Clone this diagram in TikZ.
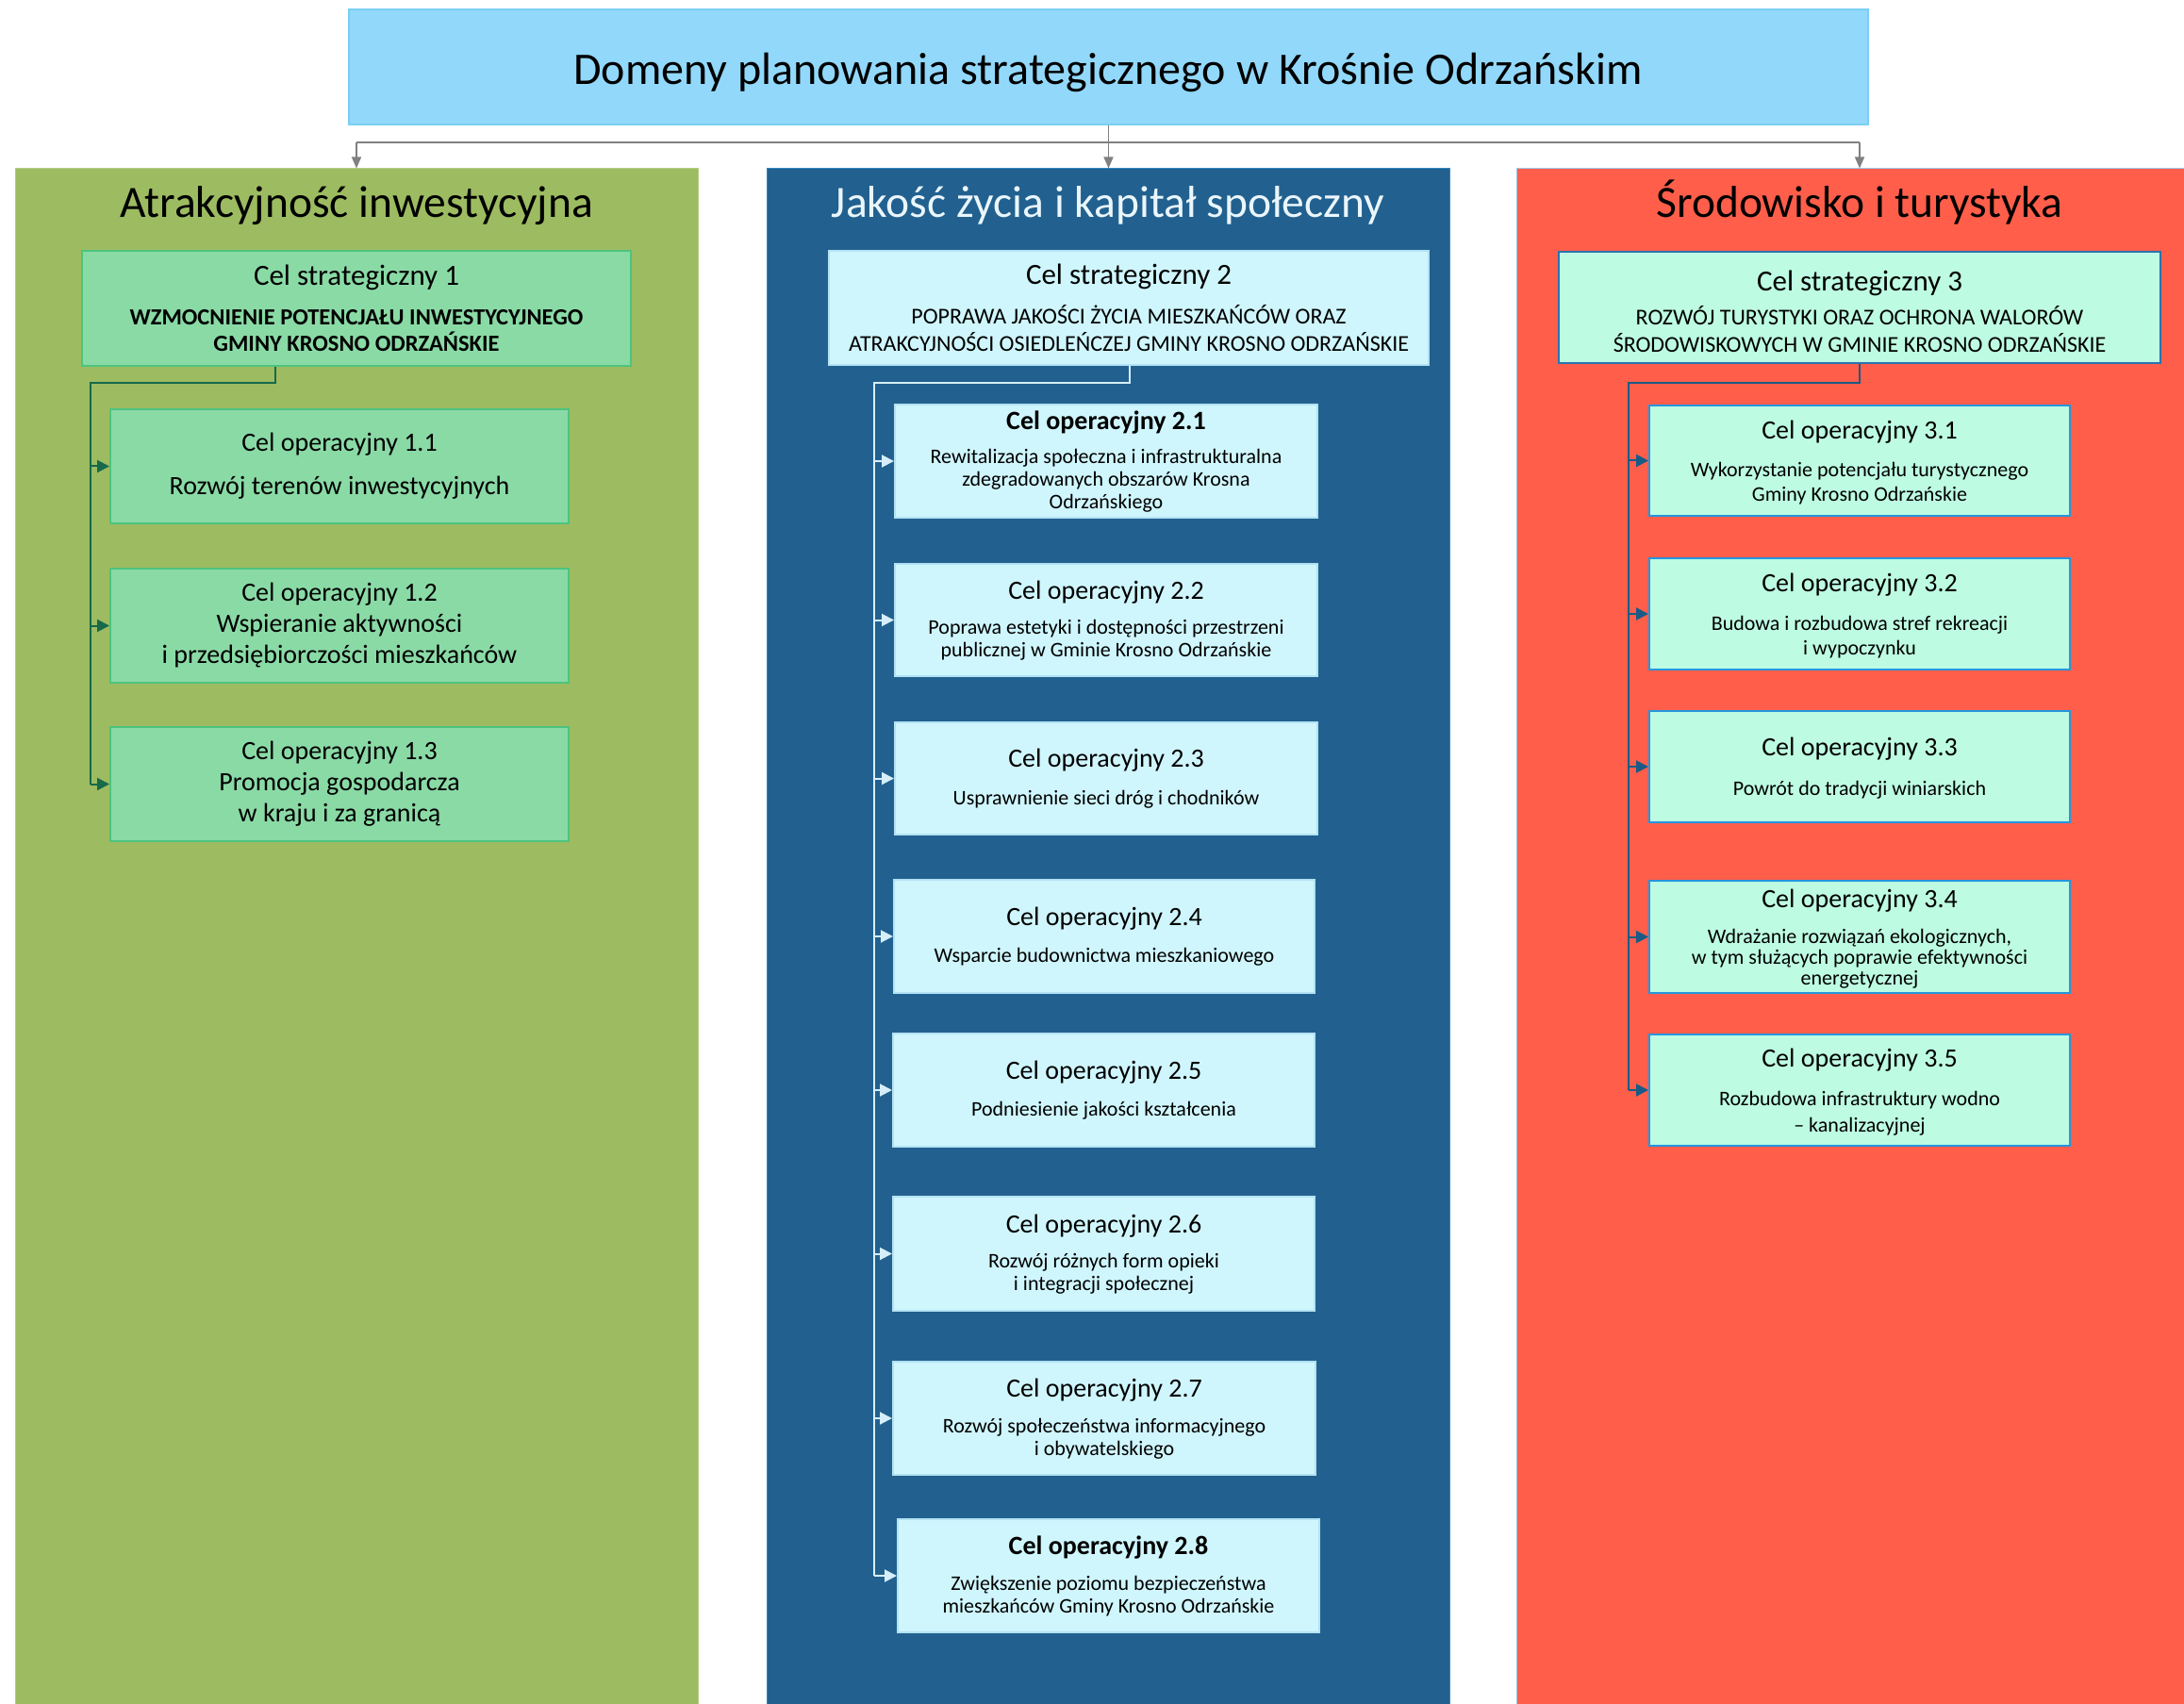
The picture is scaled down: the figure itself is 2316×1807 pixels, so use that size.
\documentclass[tikz,border=0pt]{standalone}
\usepackage{fontspec}
\setmainfont{Carlito}
\usetikzlibrary{fit,arrows.meta}
\definecolor{titlefill}{HTML}{92D8FA}
\definecolor{titleedge}{HTML}{7ACFF3}
\definecolor{greycon}{HTML}{808080}
\definecolor{colAfill}{HTML}{9DBB61}
\definecolor{colAedge}{HTML}{B2CD84}
\definecolor{colBfill}{HTML}{22618F}
\definecolor{colBedge}{HTML}{2E86C1}
\definecolor{colCfill}{HTML}{FF5E4A}
\definecolor{colCedge}{HTML}{9FC5E8}
\definecolor{boxAfill}{HTML}{8ADAA6}
\definecolor{boxAedge}{HTML}{4CC47F}
\definecolor{boxBfill}{HTML}{CFF6FD}
\definecolor{boxBedge}{HTML}{B3E2F3}
\definecolor{boxCfill}{HTML}{BDFCE3}
\definecolor{boxCedge}{HTML}{2496DE}
\definecolor{scCedge}{HTML}{2B73AE}
\definecolor{conA}{HTML}{16694A}
\definecolor{conB}{HTML}{D6EEFA}
\definecolor{conC}{HTML}{1A5A87}
\definecolor{colBtext}{HTML}{EAF6FC}
\newcommand\OpT{\fontsize{14pt}{16.5pt}\selectfont}
\newcommand\OpTB{\fontsize{14pt}{16.5pt}\selectfont\bfseries}
\newcommand\ScT{\fontsize{15.5pt}{18pt}\selectfont}
\newcommand\ScB{\fontsize{12.25pt}{14pt}\selectfont\bfseries}
\begin{document}
\begin{tikzpicture}[x=0.5pt,y=-0.5pt,
  colbox/.style={inner sep=0pt, line width=0.5pt},
  box/.style={inner sep=0pt, line width=1pt},
  txt/.style={inner sep=0pt, align=center, text=black},
  scA/.style={box, fill=boxAfill, draw=boxAedge},
  scB/.style={box, fill=boxBfill, draw=boxBedge},
  scC/.style={box, fill=boxCfill, draw=scCedge},
  opA/.style={box, fill=boxAfill, draw=boxAedge},
  opB/.style={box, fill=boxBfill, draw=boxBedge},
  opC/.style={box, fill=boxCfill, draw=boxCedge},
  tA/.style={txt, font=\fontsize{14pt}{16.5pt}\selectfont},
  tB/.style={txt, yshift=-0.25pt, font=\fontsize{11pt}{12pt}\selectfont},
  tC/.style={txt, yshift=-1pt, font=\fontsize{11pt}{13pt}\selectfont},
  tS/.style={txt, font=\fontsize{12pt}{14pt}\selectfont},
  coltitle/.style={anchor=base, inner sep=0pt, font=\fontsize{23.75pt}{28pt}\selectfont},
  gline/.style={draw=greycon, line width=0.75pt},
  garrow/.style={gline, -{Triangle[length=6pt,width=5pt]}},
  conline/.style={line width=1pt},
  conarrow/.style={line width=1pt, -{Triangle[length=6.5pt,width=6.5pt]}}
]
\useasboundingbox (0,0) rectangle (2316,1807);

% columns
\node[colbox, fill=colAfill, draw=colAedge, fit={(16,179) (740,1815)}] (col1) {};
\node[colbox, fill=colBfill, draw=colBedge, fit={(813,179) (1537,1815)}] (col2) {};
\node[colbox, fill=colCfill, draw=colCedge, fit={(1608,179) (2336,1815)}] (col3) {};

% title
\node[inner sep=0pt, fill=titlefill, draw=titleedge, line width=0.75pt, fit={(370,10) (1981,132)}] (title) {};
\node[anchor=base, inner sep=0pt, font=\fontsize{24pt}{28pt}\selectfont] (titletext) at (1175,89.5) {Domeny planowania strategicznego w Krośnie Odrzańskim};

% top connectors
\coordinate (hl) at (378,151);
\coordinate (hr) at (1972,151);
\draw[gline] (hl) -- (hr);
\draw[garrow] (title.south) -- (title.south |- col2.north);
\draw[garrow] (hl) -- (hl |- col1.north);
\draw[garrow] (hr) -- (hr |- col3.north);

% column titles
\node[coltitle] (t1) at (378,231) {Atrakcyjność inwestycyjna};
\node[coltitle, text=colBtext] (t2) at (1175,231) {Jakość życia i kapitał społeczny};
\node[coltitle] (t3) at (1972,231) {Środowisko i turystyka};

% strategic goals
\node[scA, fit={(87,266) (669,388)}] (sc1) {};
\node[tS] (sc1t) at (sc1.center) {{\ScT Cel strategiczny 1}\\[7.25pt]{\ScB WZMOCNIENIE POTENCJAŁU INWESTYCYJNEGO}\\{\ScB GMINY KROSNO ODRZAŃSKIE}};
\node[scB, fit={(879,266) (1515,387)}] (sc2) {};
\node[tS, font=\fontsize{12pt}{14.5pt}\selectfont] (sc2t) at (sc2.center) {{\ScT Cel strategiczny 2}\\[6.5pt]POPRAWA JAKOŚCI ŻYCIA MIESZKAŃCÓW ORAZ\\ATRAKCYJNOŚCI OSIEDLEŃCZEJ GMINY KROSNO ODRZAŃSKIE};
\node[scC, fit={(1653,267) (2291,385)}] (sc3) {};
\node[tS, yshift=-2pt, font=\fontsize{12pt}{14.25pt}\selectfont] (sc3t) at (sc3.center) {{\ScT Cel strategiczny 3}\\[4pt]ROZWÓJ TURYSTYKI ORAZ OCHRONA WALORÓW\\ŚRODOWISKOWYCH W GMINIE KROSNO ODRZAŃSKIE};

% column 1 goals
\node[opA, fit={(117,434) (603,555)}] (o11) {};
\node[tA] (o11t) at (o11.center) {Cel operacyjny 1.1\\[6.5pt]Rozwój terenów inwestycyjnych};
\node[opA, fit={(117,603) (603,724)}] (o12) {};
\node[tA] (o12t) at (o12.center) {Cel operacyjny 1.2\\Wspieranie aktywności\\i przedsiębiorczości mieszkańców};
\node[opA, fit={(117,771) (603,892)}] (o13) {};
\node[tA] (o13t) at (o13.center) {Cel operacyjny 1.3\\Promocja gospodarcza\\w kraju i za granicą};

% column 2 goals
\node[opB, fit={(949,429) (1397,549)}] (o21) {};
\node[tB] (o21t) at (o21.center) {{\OpTB Cel operacyjny 2.1}\\[6.25pt]Rewitalizacja społeczna i infrastrukturalna\\zdegradowanych obszarów Krosna\\Odrzańskiego};
\node[opB, fit={(949,598) (1397,717)}] (o22) {};
\node[tB] (o22t) at (o22.center) {{\OpT Cel operacyjny 2.2}\\[6.5pt]Poprawa estetyki i dostępności przestrzeni\\publicznej w Gminie Krosno Odrzańskie};
\node[opB, fit={(949,766) (1397,885)}] (o23) {};
\node[tB] (o23t) at (o23.center) {{\OpT Cel operacyjny 2.3}\\[8pt]Usprawnienie sieci dróg i chodników};
\node[opB, fit={(948,933) (1394,1053)}] (o24) {};
\node[tB] (o24t) at (o24.center) {{\OpT Cel operacyjny 2.4}\\[7.5pt]Wsparcie budownictwa mieszkaniowego};
\node[opB, fit={(947,1096) (1394,1216)}] (o25) {};
\node[tB] (o25t) at (o25.center) {{\OpT Cel operacyjny 2.5}\\[7.5pt]Podniesienie jakości kształcenia};
\node[opB, fit={(947,1269) (1394,1390)}] (o26) {};
\node[tB] (o26t) at (o26.center) {{\OpT Cel operacyjny 2.6}\\[6.5pt]Rozwój różnych form opieki\\i integracji społecznej};
\node[opB, fit={(947,1444) (1395,1564)}] (o27) {};
\node[tB] (o27t) at (o27.center) {{\OpT Cel operacyjny 2.7}\\[6.75pt]Rozwój społeczeństwa informacyjnego\\i obywatelskiego};
\node[opB, fit={(952,1611) (1399,1731)}] (o28) {};
\node[tB] (o28t) at (o28.center) {{\OpTB Cel operacyjny 2.8}\\[7pt]Zwiększenie poziomu bezpieczeństwa\\mieszkańców Gminy Krosno Odrzańskie};

% column 3 goals
\node[opC, fit={(1749,430) (2195,547)}] (o31) {};
\node[tC] (o31t) at (o31.center) {{\OpT Cel operacyjny 3.1}\\[7pt]Wykorzystanie potencjału turystycznego\\Gminy Krosno Odrzańskie};
\node[opC, fit={(1749,592) (2195,710)}] (o32) {};
\node[tC] (o32t) at (o32.center) {{\OpT Cel operacyjny 3.2}\\[7.75pt]Budowa i rozbudowa stref rekreacji\\i wypoczynku};
\node[opC, fit={(1749,754) (2195,872)}] (o33) {};
\node[tC] (o33t) at (o33.center) {{\OpT Cel operacyjny 3.3}\\[8pt]Powrót do tradycji winiarskich};
\node[opC, fit={(1749,934) (2195,1053)}] (o34) {};
\node[tC, font=\fontsize{11pt}{11pt}\selectfont] (o34t) at (o34.center) {{\OpT Cel operacyjny 3.4}\\[8.25pt]Wdrażanie rozwiązań ekologicznych,\\w tym służących poprawie efektywności\\energetycznej};
\node[opC, fit={(1749,1097) (2195,1215)}] (o35) {};
\node[tC, font=\fontsize{11pt}{14pt}\selectfont] (o35t) at (o35.center) {{\OpT Cel operacyjny 3.5}\\[6.25pt]Rozbudowa infrastruktury wodno\\– kanalizacyjnej};

% column 1 connectors
\coordinate (j1) at (292,406);
\coordinate (k1) at (96,406);
\draw[conline, conA] (sc1.south -| j1) -- (j1) -- (k1) -- (k1 |- o13.west);
\foreach \o in {o11,o12,o13} \draw[conarrow, conA, fill=conA] (k1 |- \o.west) -- (\o.west);

% column 2 connectors
\coordinate (j2) at (1198,406);
\coordinate (k2) at (927,406);
\draw[conline, conB] (sc2.south -| j2) -- (j2) -- (k2) -- (k2 |- o28.west);
\foreach \o in {o21,o22,o23,o24,o25,o26,o27,o28} \draw[conarrow, conB, fill=conB] (k2 |- \o.west) -- (\o.west);

% column 3 connectors
\coordinate (j3) at (1972,406);
\coordinate (k3) at (1727,406);
\draw[conline, conC] (sc3.south -| j3) -- (j3) -- (k3) -- (k3 |- o35.west);
\foreach \o in {o31,o32,o33,o34,o35} \draw[conarrow, conC, fill=conC] (k3 |- \o.west) -- (\o.west);
\end{tikzpicture}
\end{document}
